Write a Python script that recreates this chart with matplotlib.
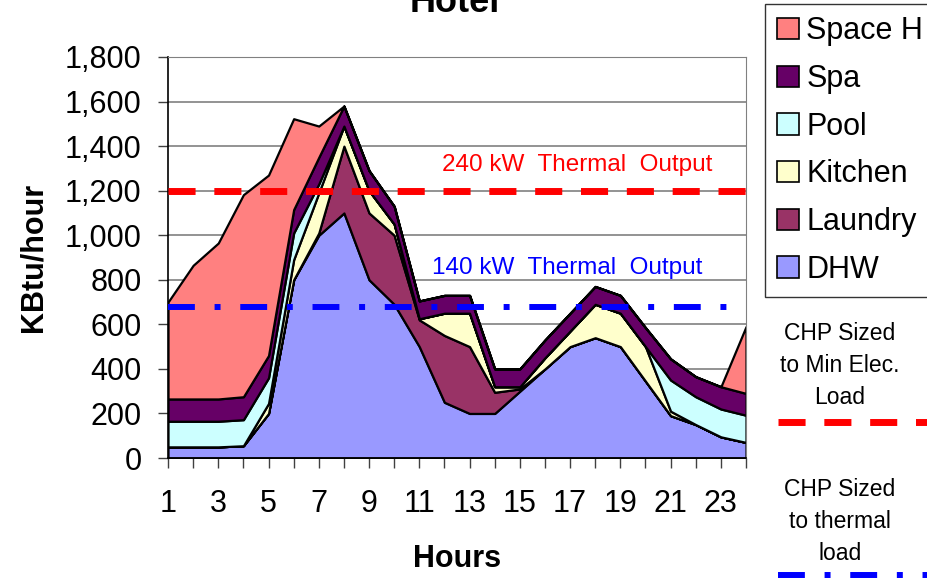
import matplotlib
matplotlib.use("Agg")
import matplotlib.pyplot as plt
from matplotlib.patches import Patch
from matplotlib.lines import Line2D

plt.rcParams['font.family'] = ['Liberation Sans', 'DejaVu Sans']

# hourly thermal loads, KBtu/hour
hours = list(range(1, 25))
dhw = [50, 50, 50, 55, 200, 800, 1000, 1100, 800, 690, 500, 250,
       200, 200, 300, 400, 500, 540, 500, 345, 190, 150, 95, 70]
laundry = [0, 0, 0, 0, 0, 0, 10, 300, 300, 310, 120, 300,
           300, 95, 10, 0, 0, 0, 0, 0, 0, 0, 0, 0]
kitchen = [0, 0, 0, 0, 45, 90, 180, 90, 100, 50, 5, 100,
           150, 25, 10, 50, 70, 150, 150, 155, 20, 0, 0, 0]
pool = [115, 115, 115, 117, 115, 120, 40, 0, 0, 0, 0, 0,
        0, 0, 0, 0, 0, 0, 0, 0, 140, 125, 125, 122]
spa = [100, 100, 100, 103, 100, 105, 120, 90, 90, 80, 80, 80,
       80, 80, 80, 80, 80, 80, 80, 85, 95, 90, 100, 98]
space_heat = [435, 600, 700, 907, 810, 408, 140, 0, 0, 0, 0, 0,
              0, 0, 0, 0, 0, 0, 0, 0, 0, 0, 0, 300]

# legend text is cut at the right edge in the original, shown as "Space H"
labels = ['DHW', 'Laundry', 'Kitchen', 'Pool', 'Spa', 'Space H']
colors = ['#9999FF', '#993366', '#FFFFCC', '#CCFFFF', '#660066', '#FF8080']

chp_min_elec = 1200   # 240 kW thermal output
chp_thermal = 680     # 140 kW thermal output

fig = plt.figure(figsize=(9.28, 5.82), dpi=100)
ax = fig.add_axes([168/928, 1-458/582, (746-168)/928, (458-57)/582])

ax.stackplot(hours, dhw, laundry, kitchen, pool, spa, space_heat,
             colors=colors, edgecolor='black', linewidth=1.6, zorder=2)

red_dash = (3.9, 2.7)
blue_dashdot = (4.5, 3.3, 1.0, 3.3)
ax.plot([hours[0], hours[-1]], [chp_min_elec]*2, color='#FF0000', lw=5,
        dashes=red_dash, zorder=3)
ax.plot([hours[0], hours[-1]], [chp_thermal]*2, color='#0000FF', lw=4.3,
        dashes=blue_dashdot, zorder=3)

ax.text(17.3, 1314, '240 kW  Thermal  Output', color='#FF0000',
        fontsize=17.5, ha='center', va='center')
ax.text(16.9, 852, '140 kW  Thermal  Output', color='#0000FF',
        fontsize=17.5, ha='center', va='center')

ax.set_xlim(1, 24)
ax.set_ylim(0, 1800)
ax.set_xticks(hours)
ax.set_xticklabels([str(h) if h % 2 == 1 else '' for h in hours])
ax.set_yticks(range(0, 1801, 200))
ax.set_yticklabels([f'{v:,}' for v in range(0, 1801, 200)])
ax.yaxis.grid(True, color='#808080', lw=1.2)
ax.set_axisbelow(True)
ax.tick_params(axis='both', direction='out', length=7, width=1,
               labelsize=22, color='#404040')
ax.tick_params(axis='x', pad=15)
ax.tick_params(axis='y', pad=12)
for s in ['top', 'right']:
    ax.spines[s].set_color('#808080')
for s in ['left', 'bottom']:
    ax.spines[s].set_color('black')
    ax.spines[s].set_linewidth(1.2)

ax.set_xlabel('Hours', fontsize=22, fontweight='bold', labelpad=18)
ax.set_ylabel('KBtu/hour', fontsize=22, fontweight='bold', labelpad=12)

# title sits partly above the top edge, as in the original
fig.text(455/928, 1-12/582, 'Hotel', fontsize=26, fontweight='bold',
         ha='center', va='baseline')

handles = [Patch(facecolor=c, edgecolor='black', lw=1.2) for c in colors][::-1]
leg = fig.legend(handles, labels[::-1], loc='upper left',
                 bbox_to_anchor=(765/928, 1-4/582), fontsize=22,
                 frameon=True, fancybox=False, edgecolor='black',
                 handlelength=0.7, handleheight=0.7, handletextpad=0.25,
                 labelspacing=0.58, borderpad=0.4, borderaxespad=0)
leg.get_frame().set_linewidth(1.0)

fig.text(840/928, 1-365/582, 'CHP Sized\nto Min Elec.\nLoad', fontsize=16.5,
         ha='center', va='center', linespacing=1.5)
fig.add_artist(Line2D([778/928, 1.0], [1-422/582]*2, color='#FF0000', lw=5,
                      dashes=red_dash, transform=fig.transFigure))
fig.text(840/928, 1-521/582, 'CHP Sized\nto thermal\nload', fontsize=16.5,
         ha='center', va='center', linespacing=1.5)
fig.add_artist(Line2D([778/928, 1.0], [1-575/582]*2, color='#0000FF', lw=4.3,
                      dashes=blue_dashdot, transform=fig.transFigure))

fig.savefig('out.png', dpi=100)
